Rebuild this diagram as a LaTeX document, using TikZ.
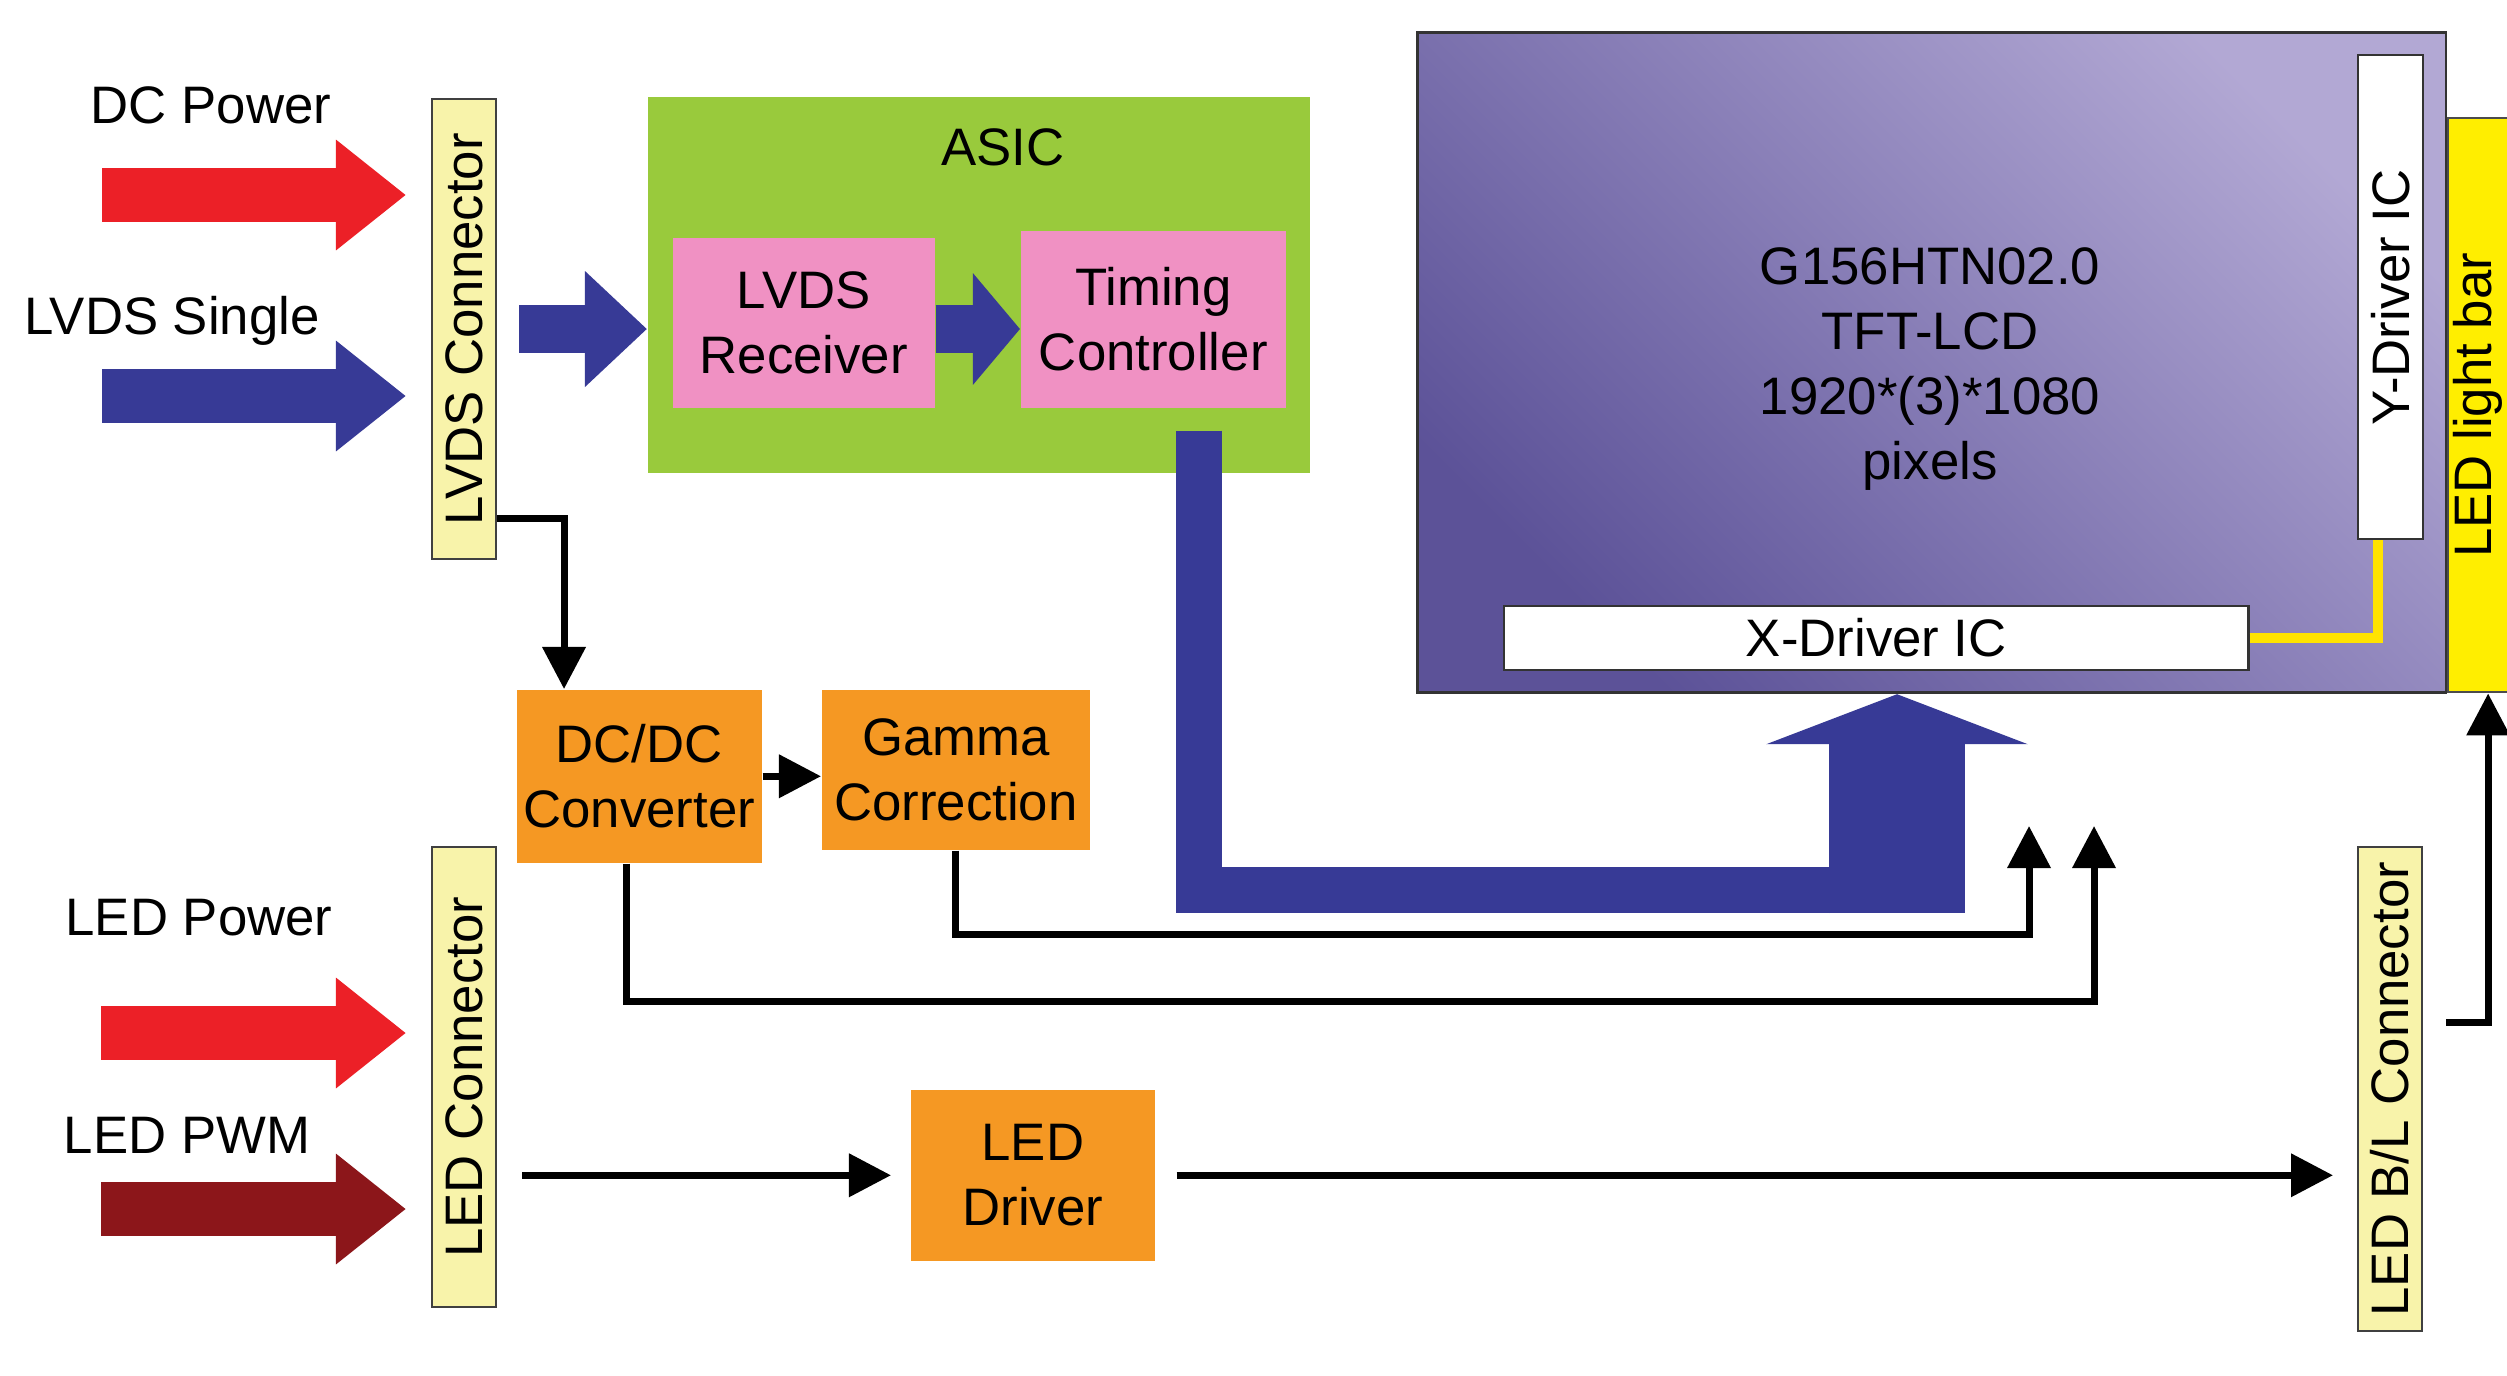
\documentclass[tikz,border=0pt]{standalone}
\usepackage{fontspec}
\setmainfont{Liberation Sans}
\usepackage{graphicx}
\usetikzlibrary{arrows.meta, calc}
\definecolor{fatRed}{RGB}{236,32,39}
\definecolor{fatDarkRed}{RGB}{140,22,26}
\definecolor{busBlue}{RGB}{55,58,150}
\definecolor{asicGreen}{RGB}{153,202,60}
\definecolor{blkPink}{RGB}{240,145,195}
\definecolor{blkOrange}{RGB}{245,152,35}
\definecolor{connYellow}{RGB}{248,243,170}
\definecolor{barYellow}{RGB}{255,238,0}
\definecolor{panelDark}{RGB}{92,82,152}
\definecolor{panelLight}{RGB}{178,168,212}

\begin{document}
\begin{tikzpicture}[
  x=0.01cm, y=-0.01cm,
  font=\fontsize{15}{18.5}\selectfont,
  blk/.style={anchor=north west, inner sep=0pt, align=center},
  conn/.style={blk, draw=black!75, line width=0.6pt, fill=connYellow, minimum width=0.64cm},
  ic/.style={blk, draw=black!80, line width=0.6pt, fill=white},
  fat/.style={line width=0.54cm, shorten >=0.25cm, -{Triangle[length=0.70cm, width=1.06cm]}},
  sig/.style={line width=0.07cm, -{Triangle[length=0.42cm, width=0.42cm]}},
]
  \fill[white] (0,0) rectangle (2507,1375);
  \useasboundingbox (0,0) rectangle (2507,1375);

  % connectors
  \node[conn, minimum height=4.60cm] (lvdsconn) at (431,98)  {\rotatebox{90}{LVDS Connector}};
  \node[conn, minimum height=4.60cm] (ledconn)  at (431,846) {\rotatebox{90}{LED Connector}};
  \node[conn, minimum height=4.84cm] (blconn)   at (2357,846) {\rotatebox{90}{LED B/L Connector}};

  % ASIC
  \node[blk, fill=asicGreen, minimum width=6.62cm, minimum height=3.76cm] (asic) at (647,96) {};
  \node (asiclbl) at (1003,147) {ASIC};
  \node[blk, fill=blkPink, minimum width=2.62cm, minimum height=1.70cm] (rx) at (672,237) {LVDS\\Receiver};
  \node[blk, fill=blkPink, minimum width=2.65cm, minimum height=1.77cm] (tc) at (1020,230) {Timing\\Controller};

  % power and backlight blocks
  \node[blk, fill=blkOrange, minimum width=2.45cm, minimum height=1.73cm] (dcdc)   at (516,689)  {DC/DC\\Converter};
  \node[blk, fill=blkOrange, minimum width=2.68cm, minimum height=1.60cm] (gamma)  at (821,689)  {Gamma\\Correction};
  \node[blk, fill=blkOrange, minimum width=2.44cm, minimum height=1.71cm] (leddrv) at (910,1089) {LED\\Driver};

  % panel
  \node[blk, draw=black!80, line width=0.8pt, bottom color=panelDark, top color=panelLight,
        shading angle=-45, minimum width=10.28cm, minimum height=6.60cm] (panel) at (1416,31) {};
  \node[align=center] (paneltxt) at (1930,369) {G156HTN02.0\\TFT-LCD\\1920*(3)*1080\\pixels};
  \node[ic, minimum width=0.65cm, minimum height=4.84cm] (ydrv) at (2357,54) {\rotatebox{90}{Y-Driver IC}};
  \node[ic, minimum width=7.44cm, minimum height=0.64cm] (xdrv) at (1503,605) {X-Driver IC};
  \node[blk, draw=black!70, line width=0.6pt, fill=barYellow, minimum width=0.60cm, minimum height=5.74cm]
        (lightbar) at (2447,117) {\rotatebox{90}{LED light bar}};
  \draw[barYellow!90!orange, line width=0.10cm] (xdrv.east) -| ([xshift=-0.13cm]ydrv.south);

  % inputs
  \node (dclbl)   at (211,105)  {DC Power};
  \node (lvdslbl) at (172,321)  {LVDS Single};
  \node (ledplbl) at (199,918)  {LED Power};
  \node (pwmlbl)  at (187,1135) {LED PWM};
  \coordinate (dcin)   at (102,195);
  \coordinate (lvdsin) at (102,396);
  \coordinate (ledpin) at (101,1033);
  \coordinate (pwmin)  at (101,1209);
  \draw[fat, fatRed]     (dcin)   -- (dcin -| lvdsconn.west);
  \draw[fat, busBlue]    (lvdsin) -- (lvdsin -| lvdsconn.west);
  \draw[fat, fatRed]     (ledpin) -- (ledpin -| ledconn.west);
  \draw[fat, fatDarkRed] (pwmin)  -- (pwmin -| ledconn.west);

  \draw[fat, busBlue, line width=0.47cm, shorten <=0.22cm, shorten >=0pt, -{Triangle[length=0.62cm, width=1.12cm]}]
        (lvdsconn.east |- 0,329) -- (asic.west |- 0,329);
  \draw[fat, busBlue, line width=0.47cm, shorten >=0pt, -{Triangle[length=0.47cm, width=1.09cm]}]
        (rx.east |- 0,329) -- (tc.west |- 0,329);

  % data bus to the X driver
  \coordinate (busup) at (1897,913);
  \draw[busBlue, line width=0.46cm] ([xshift=0.46cm, yshift=-0.22cm]tc.south) |- (busup |- 0,890);
  \draw[busBlue, line width=1.36cm, -{Triangle[length=0.50cm, width=2.60cm]}] (busup) -- (busup |- panel.south);

  % signal lines
  \coordinate (xin1) at (2029,826);
  \coordinate (xin2) at (2094,826);
  \coordinate (blout) at (2446,1022);
  \draw[sig] ([yshift=0.42cm]lvdsconn.south east) -| ([xshift=0.48cm]dcdc.north west);
  \draw[sig] (dcdc.east) -- (dcdc.east -| gamma.west);
  \draw[sig] (gamma.south) |- (xin1 |- 0,934) -- (xin1);
  \draw[sig] ([xshift=1.10cm]dcdc.south west) |- (xin2 |- 0,1001) -- (xin2);
  \draw[sig, shorten <=0.25cm, shorten >=0.19cm] (ledconn.east |- leddrv.west) -- (leddrv.west);
  \draw[sig, shorten <=0.21cm, shorten >=0.24cm] (leddrv.east) -- (leddrv.east -| blconn.west);
  \draw[sig] (blout) -| ([xshift=0.10cm]lightbar.south);
\end{tikzpicture}
\end{document}
